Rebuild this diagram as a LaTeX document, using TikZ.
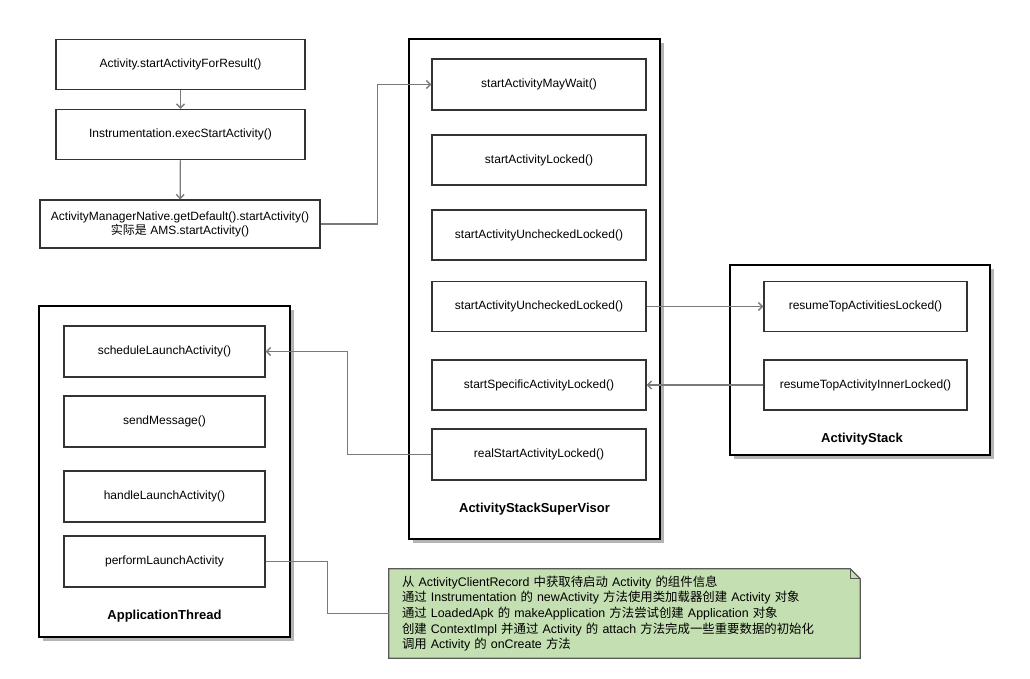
\documentclass[tikz,border=0pt]{standalone}
\usepackage{fontspec}
\setmainfont{Liberation Sans}
\newfontfamily\cjk{Noto Sans CJK SC}
\newcommand{\zh}[1]{{\cjk #1}}
\usetikzlibrary{shapes, arrows.meta, positioning, shadows, backgrounds}
\definecolor{flowgray}{HTML}{7A7A7A}
\definecolor{notegreen}{HTML}{C4DFB2}
\definecolor{shadowgray}{HTML}{B4B4B4}

\begin{document}
\begin{tikzpicture}[x=1pt, y=-1pt,
    method/.style={rectangle, draw=black!80, line width=1.2pt, fill=white, inner sep=0pt,
        minimum height=50pt, align=center, font=\fontsize{12}{14}\selectfont},
    holder/.style={rectangle, draw=black, line width=2.2pt, fill=white, inner sep=0pt,
        drop shadow={shadow xshift=4pt, shadow yshift=-4pt, fill=shadowgray, opacity=1}},
    title/.style={font=\bfseries\fontsize{13}{15}\selectfont},
    flow/.style={draw=flowgray, line width=1.2pt, -{Straight Barb[length=4pt, width=8pt, line width=1.4pt]}},
    link/.style={draw=flowgray, line width=1.2pt}]
        \useasboundingbox (0,0) rectangle (1030,679);

        % Client side
        \node[method, minimum width=249pt] (forresult) at (180.5,64.5) {Activity.startActivityForResult()};
        \node[method, minimum width=249pt] (exec) at (180.5,134.5) {Instrumentation.execStartActivity()};
        \node[method, minimum width=280pt, minimum height=48pt] (ams) at (180,224)
            {ActivityManagerNative.getDefault().startActivity()\\\zh{实际是} AMS.startActivity()};

        % ActivityStackSuperVisor
        \node[holder, minimum width=251pt, minimum height=500pt] (supervisor) at (534.5,289) {};
        \node[method, minimum width=214pt, minimum height=51pt] (maywait) at (539,84.5) {startActivityMayWait()};
        \node[method, minimum width=214pt] (locked) at (539,160) {startActivityLocked()};
        \node[method, minimum width=214pt] (unchecked) at (539,235) {startActivityUncheckedLocked()};
        \node[method, minimum width=214pt] (uncheckedtwo) at (539,306.5) {startActivityUncheckedLocked()};
        \node[method, minimum width=214pt] (specific) at (539,385) {startSpecificActivityLocked()};
        \node[method, minimum width=214pt, minimum height=51pt] (realstart) at (539,454.5) {realStartActivityLocked()};
        \node[title] (supervisorname) at (534.5,509) {ActivityStackSuperVisor};

        % ActivityStack
        \node[holder, minimum width=260pt, minimum height=190pt] (stack) at (860,360) {};
        \node[method, minimum width=203pt] (resumetop) at (865.5,306.5) {resumeTopActivitiesLocked()};
        \node[method, minimum width=203pt] (resumeinner) at (865.5,385) {resumeTopActivityInnerLocked()};
        \node[title] (stackname) at (862,439) {ActivityStack};

        % ApplicationThread
        \node[holder, minimum width=251pt, minimum height=331pt] (appthread) at (164.5,471.5) {};
        \node[method, minimum width=201pt, minimum height=51pt] (schedule) at (164.5,351.5) {scheduleLaunchActivity()};
        \node[method, minimum width=201pt, minimum height=51pt] (sendmsg) at (164.5,421.5) {sendMessage()};
        \node[method, minimum width=201pt, minimum height=51pt] (handle) at (164.5,496.5) {handleLaunchActivity()};
        \node[method, minimum width=201pt, minimum height=51pt] (perform) at (164.5,561.5) {performLaunchActivity};
        \node[title] (appthreadname) at (164.5,616) {ApplicationThread};

        % Note
        \node[rectangle, minimum width=471pt, minimum height=89pt, inner sep=0pt, text width=445pt, align=left,
            font=\fontsize{12.4}{15.7}\selectfont] (note) at (624.5,613.5)
            {\zh{从} ActivityClientRecord \zh{中获取待启动} Activity \zh{的组件信息}\\
             \zh{通过} Instrumentation \zh{的} newActivity \zh{方法使用类加载器创建} Activity \zh{对象}\\
             \zh{通过} LoadedApk \zh{的} makeApplication \zh{方法尝试创建} Application \zh{对象}\\
             \zh{创建} ContextImpl \zh{并通过} Activity \zh{的} attach \zh{方法完成一些重要数据的初始化}\\
             \zh{调用} Activity \zh{的} onCreate \zh{方法}};
        \begin{scope}[on background layer]
            \draw[draw=black!65, line width=1.2pt, fill=notegreen] (note.north west) -- ([xshift=-10pt]note.north east)
                -- ([yshift=-10pt]note.north east) -- (note.south east) -- (note.south west) -- cycle;
            \draw[draw=black!65, line width=1.2pt] ([xshift=-10pt]note.north east)
                -- ([xshift=-10pt, yshift=-10pt]note.north east) -- ([yshift=-10pt]note.north east);
        \end{scope}

        % Connections
        \draw[flow] (forresult) -- (exec);
        \draw[flow] (exec) -- (ams);
        \draw[flow] (ams.east) -- ++(57,0) |- (maywait.west);
        \draw[flow] (uncheckedtwo) -- (resumetop);
        \draw[flow] (resumeinner) -- (specific);
        \draw[flow] (realstart.west) -- ++(-84,0) |- (schedule.east);
        \draw[link] (perform.east) -- ++(62,0) |- (note.west);
    \end{tikzpicture}
\end{document}
